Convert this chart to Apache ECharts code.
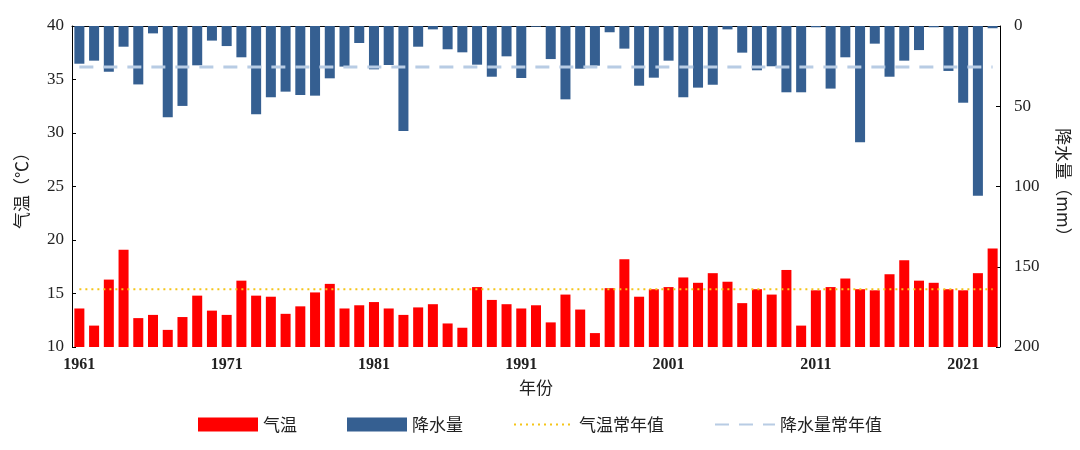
<!DOCTYPE html>
<html>
<head>
<meta charset="utf-8">
<script src="https://cdn.jsdelivr.net/npm/echarts@6/dist/echarts.min.js"></script>
<style>html,body{margin:0;padding:0;background:#fff}#main{width:1080px;height:450px}</style>
</head>
<body>
<div id="main"></div>
<script>
var years = [];
for (var y = 1961; y <= 2023; y++) years.push(String(y));

var temperature = [13.6, 12.0, 16.3, 19.1, 12.7, 13.0, 11.6, 12.8, 14.8, 13.4,
    13.0, 16.2, 14.8, 14.7, 13.1, 13.8, 15.1, 15.9, 13.6, 13.9,
    14.2, 13.6, 13.0, 13.7, 14.0, 12.2, 11.8, 15.6, 14.4, 14.0,
    13.6, 13.9, 12.3, 14.9, 13.5, 11.3, 15.5, 18.2, 14.7, 15.4,
    15.6, 16.5, 16.0, 16.9, 16.1, 14.1, 15.4, 14.9, 17.2, 12.0,
    15.3, 15.6, 16.4, 15.4, 15.3, 16.8, 18.1, 16.2, 16.0, 15.4,
    15.3, 16.9, 19.2];

var precipitation = [23.5, 21.6, 28.5, 12.9, 36.4, 4.6, 56.9, 49.8, 24.5, 9.1,
    12.5, 19.5, 55.0, 44.4, 40.9, 43.0, 43.4, 32.6, 25.3, 10.6,
    27.0, 24.3, 65.4, 12.9, 2.1, 14.5, 16.4, 24.1, 31.6, 18.9,
    32.4, 0.5, 20.6, 45.7, 26.6, 24.7, 3.9, 14.1, 37.2, 32.2,
    21.6, 44.4, 38.4, 36.6, 2.1, 16.6, 27.6, 25.1, 41.3, 41.3,
    0.8, 39.0, 19.5, 72.5, 11.0, 31.6, 21.6, 15.0, 0.8, 28.0,
    47.8, 105.7, 1.4];

var tempNormal = 15.4;
var precipNormal = 25.5;

var serif = '"Liberation Serif", "Noto Sans CJK SC", serif';
var cjk = '"Noto Sans CJK SC", serif';

var chart = echarts.init(document.getElementById('main'));
chart.setOption({
    animation: false,
    textStyle: { fontFamily: serif, color: '#000' },
    grid: { left: 72, right: 80, top: 26, bottom: 103 },
    legend: {
        bottom: 12,
        itemGap: 50,
        itemWidth: 60,
        itemHeight: 14,
        textStyle: { fontSize: 17, fontFamily: cjk, color: '#222' },
        data: [
            { name: '气温', icon: 'rect' },
            { name: '降水量', icon: 'rect' },
            { name: '气温常年值', itemStyle: { opacity: 0 } },
            { name: '降水量常年值', itemStyle: { opacity: 0 } }
        ]
    },
    xAxis: {
        type: 'category',
        data: years,
        name: '年份',
        nameLocation: 'middle',
        nameGap: 32,
        nameTextStyle: { fontSize: 17, fontFamily: cjk, color: '#222' },
        axisLine: { lineStyle: { color: '#000', width: 1 } },
        axisTick: { inside: true, length: 4, lineStyle: { color: '#000' } },
        axisLabel: { interval: 9, fontSize: 16, fontWeight: 'bold', color: '#222', fontFamily: serif, margin: 10 }
    },
    yAxis: [{
        type: 'value',
        min: 10, max: 40, interval: 5,
        name: '气温（℃）',
        nameLocation: 'middle',
        nameGap: 42,
        nameTextStyle: { fontSize: 17, fontFamily: cjk, color: '#222' },
        splitLine: { show: false },
        axisLine: { show: true, lineStyle: { color: '#000' } },
        axisTick: { show: true, inside: true, length: 4, lineStyle: { color: '#000' } },
        axisLabel: { fontSize: 17, color: '#222', fontFamily: serif }
    }, {
        type: 'value',
        min: 0, max: 200, interval: 50,
        inverse: true,
        name: '降水量（mm）',
        nameLocation: 'middle',
        nameGap: 55,
        nameRotate: -90,
        nameTextStyle: { fontSize: 17, fontFamily: cjk, color: '#222' },
        splitLine: { show: false },
        axisLine: { show: true, lineStyle: { color: '#000' } },
        axisTick: { show: true, inside: true, length: 4, lineStyle: { color: '#000' } },
        axisLabel: { fontSize: 17, color: '#222', fontFamily: serif, margin: 14 }
    }],
    series: [{
        name: '气温',
        type: 'bar',
        yAxisIndex: 0,
        data: temperature,
        barWidth: '68%',
        barGap: '-100%',
        itemStyle: { color: '#ff0000' }
    }, {
        name: '降水量',
        type: 'bar',
        yAxisIndex: 1,
        data: precipitation,
        barWidth: '68%',
        itemStyle: { color: '#355f91' }
    }, {
        name: '气温常年值',
        type: 'line',
        yAxisIndex: 0,
        data: years.map(function () { return tempNormal; }),
        symbol: 'none',
        z: 5,
        lineStyle: { color: '#f5c518', width: 2, type: [2, 4] },
        itemStyle: { color: '#f5c518' }
    }, {
        name: '降水量常年值',
        type: 'line',
        yAxisIndex: 1,
        data: years.map(function () { return precipNormal; }),
        symbol: 'none',
        z: 5,
        lineStyle: { color: '#b8cce4', width: 3, type: [14, 10] },
        itemStyle: { color: '#b8cce4' }
    }]
});
</script>
</body>
</html>
